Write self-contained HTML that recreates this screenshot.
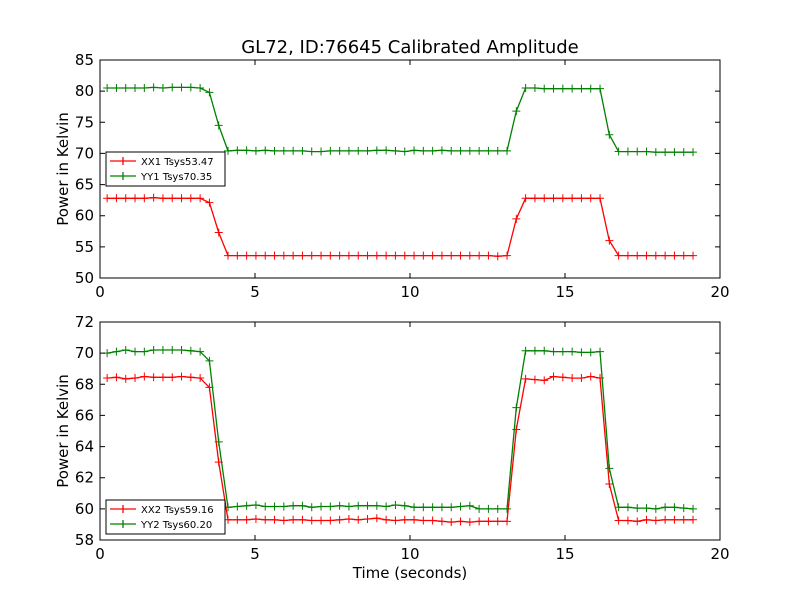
<!DOCTYPE html>
<html><head><meta charset="utf-8"><style>
body{margin:0;background:#fff;}
svg text{font-family:"DejaVu Sans","Liberation Sans",sans-serif;}
</style></head><body>
<svg id="chart" width="800" height="600" xmlns="http://www.w3.org/2000/svg">
<rect width="800" height="600" fill="#fff"/>
<text x="410" y="53" font-size="18" text-anchor="middle">GL72, ID:76645 Calibrated Amplitude</text>
<g id="p1"></g>
<g id="p2"></g>
<text x="410" y="578" font-size="15" text-anchor="middle">Time (seconds)</text>
</svg>
<script>
const times = Array.from({length:64},(_,i)=>+(0.23+0.3*i).toFixed(2));
const xx1 = [62.8,62.8,62.8,62.8,62.8,62.9,62.8,62.8,62.8,62.8,62.8,62.1,57.3,53.6,53.6,53.6,53.6,53.6,53.6,53.6,53.6,53.6,53.6,53.6,53.6,53.6,53.6,53.6,53.6,53.6,53.6,53.6,53.6,53.6,53.6,53.6,53.6,53.6,53.6,53.6,53.6,53.6,53.5,53.6,59.5,62.8,62.8,62.8,62.8,62.8,62.8,62.8,62.8,62.8,56.0,53.6,53.6,53.6,53.6,53.6,53.6,53.6,53.6,53.6];
const yy1 = [80.5,80.5,80.5,80.5,80.5,80.6,80.5,80.6,80.6,80.6,80.5,79.8,74.5,70.4,70.5,70.5,70.4,70.5,70.4,70.4,70.4,70.4,70.3,70.3,70.4,70.4,70.4,70.4,70.4,70.5,70.5,70.4,70.3,70.5,70.4,70.4,70.5,70.4,70.4,70.4,70.4,70.4,70.4,70.4,76.8,80.5,80.5,80.4,80.4,80.4,80.4,80.4,80.4,80.4,73.0,70.3,70.3,70.3,70.3,70.2,70.2,70.2,70.2,70.2];
const xx2 = [68.4,68.45,68.35,68.4,68.5,68.45,68.45,68.45,68.5,68.45,68.4,67.8,63.0,59.3,59.3,59.3,59.35,59.3,59.3,59.25,59.3,59.3,59.25,59.25,59.25,59.3,59.35,59.3,59.35,59.4,59.3,59.25,59.3,59.3,59.25,59.25,59.2,59.15,59.2,59.15,59.2,59.2,59.2,59.2,65.1,68.35,68.3,68.25,68.5,68.45,68.4,68.4,68.5,68.4,61.6,59.25,59.25,59.2,59.3,59.25,59.3,59.3,59.3,59.3];
const yy2 = [70.0,70.1,70.2,70.1,70.1,70.2,70.2,70.2,70.2,70.15,70.1,69.5,64.3,60.1,60.15,60.2,60.25,60.15,60.15,60.15,60.2,60.2,60.1,60.15,60.15,60.2,60.15,60.2,60.2,60.2,60.15,60.25,60.2,60.1,60.1,60.1,60.1,60.1,60.15,60.2,60.0,60.0,60.0,60.0,66.5,70.15,70.15,70.15,70.1,70.1,70.1,70.05,70.05,70.1,62.6,60.1,60.1,60.05,60.05,60.0,60.1,60.1,60.05,60.0];
const xTicks = [0,5,10,15,20];
const yTicks1 = [50,55,60,65,70,75,80,85];
const yTicks2 = [58,60,62,64,66,68,70,72];
const NS="http://www.w3.org/2000/svg";
function mk(parent,tag,attrs){const e=document.createElementNS(NS,tag);for(const k in attrs)e.setAttribute(k,attrs[k]);parent.appendChild(e);return e;}
function panel(g,top,bottom,ymin,ymax,yTicks,series,legendY,prefix){
  const L=100,R=720;
  const sx=t=>L+(t-0)/(20-0)*(R-L);
  const sy=v=>bottom-(v-ymin)/(ymax-ymin)*(bottom-top);
  for(const s of series){
    const pts=times.map((t,i)=>sx(t).toFixed(1)+","+sy(s.vals[i]).toFixed(1)).join(" ");
    const pl=mk(g,"polyline",{points:pts,fill:"none",stroke:s.color,"stroke-width":1.3});
    
    
    times.forEach((t,i)=>{
      const x=sx(t),y=sy(s.vals[i]);
      const m=mk(g,"path",{d:`M${x-4},${y}H${x+4}M${x},${y-4}V${y+4}`,stroke:s.color,"stroke-width":1});
      
      
    });
  }
  const fr=mk(g,"rect",{x:L,y:top,width:R-L,height:bottom-top,fill:"none",stroke:"#000","stroke-width":1});
  
  
  xTicks.forEach(t=>{
    const x=sx(t);
    mk(g,"path",{d:`M${x},${bottom}v-5M${x},${top}v5`,stroke:"#000"});
    const tx=mk(g,"text",{x:x,y:bottom+19,"font-size":15,"text-anchor":"middle"});
    tx.textContent=t;
    
    
  });
  yTicks.forEach(v=>{
    const y=sy(v);
    mk(g,"path",{d:`M${L},${y}h5M${R},${y}h-5`,stroke:"#000"});
    const tx=mk(g,"text",{x:L-6,y:y+5,"font-size":15,"text-anchor":"end"});
    tx.textContent=v;
    
    
  });
  const yt=mk(g,"text",{x:0,y:0,"font-size":15,"text-anchor":"middle",transform:`translate(68,${(top+bottom)/2}) rotate(-90)`});
  yt.textContent="Power in Kelvin";
  
  
  const lg=mk(g,"g",{});
  
  
  mk(lg,"rect",{x:106,y:legendY,width:119,height:34,fill:"#fff",stroke:"#000"});
  series.forEach((s,k)=>{
    const y=legendY+9+k*15;
    mk(lg,"path",{d:`M110,${y}H136M123,${y-4}V${y+4}`,stroke:s.color,"stroke-width":1.3});
    const tx=mk(lg,"text",{x:141,y:y+4,"font-size":10});
    tx.textContent=s.label;
    
    
  });
}
panel(document.getElementById("p1"),60,278,50,85,yTicks1,
 [{vals:xx1,color:"#ff0000",name:"xx1",label:"XX1 Tsys53.47"},{vals:yy1,color:"#008000",name:"yy1",label:"YY1 Tsys70.35"}],152,"top");
panel(document.getElementById("p2"),322,540,58,72,yTicks2,
 [{vals:xx2,color:"#ff0000",name:"xx2",label:"XX2 Tsys59.16"},{vals:yy2,color:"#008000",name:"yy2",label:"YY2 Tsys60.20"}],500,"bottom");
</script>
</body></html>
